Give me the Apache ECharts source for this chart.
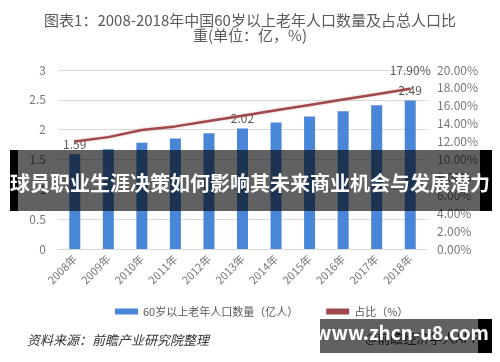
<!DOCTYPE html>
<html><head><meta charset="utf-8">
<script src="https://cdn.jsdelivr.net/npm/echarts@6/dist/echarts.min.js"></script>
<style>html,body{margin:0;padding:0;background:#fff}#c{width:500px;height:362px}</style>
</head><body><div id="c"></div>
<script>
const years = ['2008年','2009年','2010年','2011年','2012年','2013年','2014年','2015年','2016年','2017年','2018年'];
const population = [1.59, 1.67, 1.78, 1.85, 1.94, 2.02, 2.12, 2.22, 2.31, 2.41, 2.49];
const share = [12.0, 12.5, 13.3, 13.7, 14.3, 14.9, 15.5, 16.1, 16.7, 17.3, 17.9];
const popLabelIdx = [0, 5, 10];
const shareLabelIdx = [10];
const leftTicks = [0, 0.5, 1, 1.5, 2, 2.5, 3];
const rightTicks = [0, 2, 4, 6, 8, 10, 12, 14, 16, 18, 20];

const FONT = '"Microsoft YaHei","Noto Sans CJK SC",sans-serif';
const chart = echarts.init(document.getElementById('c'), null, {renderer:'canvas'});
chart.setOption({
  backgroundColor:'#fff',
  animation:false,
  textStyle:{fontFamily:FONT},
  title:{
    text:'图表1：2008-2018年中国60岁以上老年人口数量及占总人口比\n重(单位：亿，%)',
    left:'center', top:8,
    textStyle:{fontSize:15, fontWeight:'normal', color:'#5a5a5a', lineHeight:15, fontFamily:FONT}
  },
  grid:{left:58, right:73, top:70, bottom:113},
  legend:{
    top:301, left:110, itemGap:28, itemWidth:23, itemHeight:6,
    textStyle:{fontSize:11, color:'#595959', fontFamily:FONT},
    data:[{name:'60岁以上老年人口数量（亿人）', icon:'rect'},{name:'占比（%）', icon:'rect', itemStyle:{color:'#a0484c'}}]
  },
  xAxis:{
    type:'category', data:years,
    axisLine:{lineStyle:{color:'#d9d9d9'}}, axisTick:{show:false},
    axisLabel:{rotate:45, color:'#777', fontSize:11, margin:8, interval:0}
  },
  yAxis:[{
    type:'value', min:leftTicks[0], max:leftTicks[leftTicks.length-1], interval:0.5,
    axisLine:{show:false}, axisTick:{show:false},
    splitLine:{lineStyle:{color:'#d9d9d9'}},
    axisLabel:{color:'#777', fontSize:12, margin:12}
  },{
    type:'value', min:rightTicks[0], max:rightTicks[rightTicks.length-1], interval:2,
    axisLine:{show:false}, axisTick:{show:false}, splitLine:{show:false},
    axisLabel:{color:'#777', fontSize:12, margin:10, formatter:v=>v.toFixed(2)+'%'}
  }],
  series:[{
    name:'60岁以上老年人口数量（亿人）', type:'bar', barWidth:11,
    itemStyle:{color:'#4a86d8'},
    data:population.map((v,i)=>({value:v, label:{show:popLabelIdx.includes(i)}})),
    label:{position:'top', distance:4, color:'#595959', fontSize:12, formatter:p=>p.value.toFixed(2)}
  },{
    name:'占比（%）', type:'line', yAxisIndex:1, symbol:'circle', symbolSize:1, showSymbol:true,
    lineStyle:{color:'#a0484c', width:2.5, shadowColor:'rgba(160,72,76,0.3)', shadowBlur:3},
    itemStyle:{color:'#a0484c'},
    data:share.map((v,i)=>({value:v, label:{show:shareLabelIdx.includes(i)}})),
    label:{position:'top', distance:12, color:'#595959', fontSize:12, formatter:p=>p.value.toFixed(2)+'%'}
  }],
  graphic:[
    {type:'text', left:27, top:334, style:{text:'资料来源：前瞻产业研究院整理', fill:'#333', font:'italic 13px '+FONT}},
    {type:'rect', shape:{x:10, y:150, width:482, height:61}, style:{fill:'rgba(0,0,0,0.62)'}, z:100},
    {type:'rect', shape:{x:10, y:150, width:8, height:61}, style:{fill:'#000'}, z:101},
    {type:'rect', shape:{x:480, y:150, width:12, height:61}, style:{fill:'#000'}, z:101},
    {type:'text', x:250, y:183, style:{text:'球员职业生涯决策如何影响其未来商业机会与发展潜力', fill:'#fff', font:'bold 20px '+FONT, textAlign:'center', textVerticalAlign:'middle'}, z:102},
    {type:'text', x:365, y:338, style:{text:'@前瞻经济学人APP', fill:'#333', font:'13px '+FONT, textVerticalAlign:'middle'}, z:99},
    {type:'rect', shape:{x:320, y:319, width:160, height:34}, style:{fill:'rgba(0,0,0,0.62)'}, z:100},
    {type:'rect', shape:{x:478, y:319, width:14, height:34}, style:{fill:'#000'}, z:101},
    {type:'text', x:402, y:333, style:{text:'www.zhcn-u8.com', fill:'#fff', font:'bold 19px '+FONT, textAlign:'center', textVerticalAlign:'middle'}, z:102}
  ]
});
</script></body></html>
